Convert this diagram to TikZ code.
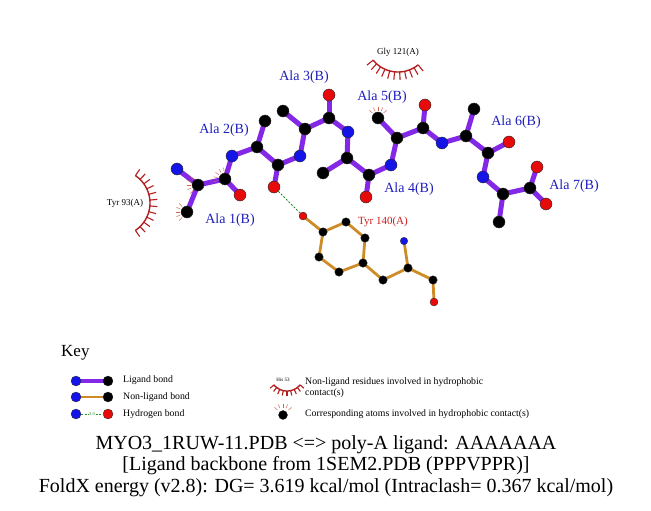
\documentclass[tikz,border=0pt]{standalone}
\usepackage{fontspec}
\setmainfont{Liberation Serif}
\usetikzlibrary{calc}
\pgfdeclarelayer{bg}
\pgfdeclarelayer{bonds}
\pgfsetlayers{bg,bonds,main}
\definecolor{ligpurple}{RGB}{130,40,230}
\definecolor{nonlig}{RGB}{205,140,40}
\definecolor{atomblue}{RGB}{20,20,230}
\definecolor{atomred}{RGB}{230,10,10}
\definecolor{hbgreen}{RGB}{40,140,40}
\definecolor{labelblue}{RGB}{30,30,190}
\definecolor{arcred}{RGB}{180,30,30}
\definecolor{spokecol}{RGB}{210,100,80}
\definecolor{tyrred}{RGB}{200,30,30}
\newcommand\atomspokes[2]{%
  \foreach \aa in {-48,-24,0,24,48}{%
    \draw[spoke] ($(#1)+(#2+\aa:7.5)$) -- ($(#1)+(#2+\aa:11.5)$);}}
\newcommand\hydarc[7]{% cx cy dir radius spread nspokes-1 spokelength
  \draw[arcline] plot[domain={#3-#5}:{#3+#5},samples=40] ({#1+#4*cos(\x)},{#2+#4*sin(\x)});
  \foreach \ii in {0,...,#6}{%
    \pgfmathsetmacro\ang{#3-#5+\ii*2*#5/#6}%
    \draw[arcspoke] ({#1+#4*cos(\ang)},{#2+#4*sin(\ang)}) -- ({#1+(#4+#7)*cos(\ang)},{#2+(#4+#7)*sin(\ang)});}}
\begin{document}
\begin{tikzpicture}[x=1pt,y=-1pt,
  atom/.style={circle,inner sep=0pt,minimum size=12pt,draw=black!85,line width=0.4pt},
  C/.style={atom,fill=black},
  N/.style={atom,fill=atomblue},
  O/.style={atom,fill=atomred},
  tatom/.style={circle,inner sep=0pt,minimum size=8.5pt,draw=black!85,line width=0.3pt},
  tC/.style={tatom,fill=black},
  tN/.style={tatom,fill=atomblue,minimum size=7.5pt},
  tO/.style={tatom,fill=atomred,minimum size=8pt},
  katom/.style={circle,inner sep=0pt,minimum size=10pt,draw=black!85,line width=0.3pt},
  ligbond/.style={draw=ligpurple,line width=5pt},
  nlbond/.style={draw=nonlig,line width=2.8pt},
  hbond/.style={draw=hbgreen,dash pattern=on 2pt off 1.6pt,line width=1pt},
  spoke/.style={draw=spokecol,line width=0.5pt},
  arcline/.style={draw=arcred,line width=1.4pt},
  arcspoke/.style={draw=arcred,line width=1.1pt},
  reslabel/.style={text=labelblue,font=\fontsize{14}{16}\selectfont,inner sep=0pt},
  protlabel/.style={text=black,font=\fontsize{9}{10}\selectfont,inner sep=0pt},
  keytext/.style={anchor=west,font=\fontsize{9.8}{11}\selectfont,inner sep=0pt},
  captext/.style={font=\fontsize{20}{22}\selectfont,inner sep=0pt}]
\useasboundingbox (0,0) rectangle (651,511);
\begin{pgfonlayer}{bg}
\fill[white] (0,0) rectangle (651,511);
\end{pgfonlayer}
% ---------- ligand atoms
\node[N] (n1) at (177,169) {};
\node[C] (ca1) at (198,185) {};
\node[C] (cb1) at (187,212) {};
\node[C] (c1) at (225,179) {};
\node[O] (o1) at (240,195) {};
\node[N] (n2) at (232,156) {};
\node[C] (ca2) at (257,147) {};
\node[C] (cb2) at (265,121) {};
\node[C] (c2) at (278,165) {};
\node[O] (o2) at (274,187) {};
\node[N] (n3) at (300,156) {};
\node[C] (ca3) at (305,129) {};
\node[C] (cb3) at (283,111) {};
\node[C] (c3) at (329,118) {};
\node[O] (o3) at (329,95) {};
\node[N] (n4) at (348,132) {};
\node[C] (ca4) at (347,158) {};
\node[C] (cb4) at (323,173) {};
\node[C] (c4) at (369,175) {};
\node[O] (o4) at (366,197) {};
\node[N] (n5) at (391,165) {};
\node[C] (ca5) at (397,138) {};
\node[C] (cb5) at (378,118) {};
\node[C] (c5) at (423,128) {};
\node[O] (o5) at (425,105) {};
\node[N] (n6) at (442,143) {};
\node[C] (ca6) at (466,136) {};
\node[C] (cb6) at (474,109) {};
\node[C] (c6) at (488,153) {};
\node[O] (o6) at (509,142) {};
\node[N] (n7) at (483,177) {};
\node[C] (ca7) at (503,194) {};
\node[C] (cb7) at (499,222) {};
\node[C] (c7) at (530,188) {};
\node[O] (o7) at (537,167) {};
\node[O] (oxt) at (546,204) {};
% ---------- Tyr 140
\node[tO] (toh) at (303,216) {};
\node[tC] (tcz) at (323,232) {};
\node[tC] (tce1) at (346,222) {};
\node[tC] (tcd1) at (365,238) {};
\node[tC] (tcg) at (363,263) {};
\node[tC] (tcd2) at (339,272) {};
\node[tC] (tce2) at (319,257) {};
\node[tC] (tcb) at (383,280) {};
\node[tC] (tca) at (408,268) {};
\node[tN] (tn) at (404,241) {};
\node[tC] (tc) at (433,280) {};
\node[tO] (tyo) at (434,302) {};
% ---------- bonds
\begin{pgfonlayer}{bonds}
\foreach \a/\b in {n1/ca1,ca1/cb1,ca1/c1,c1/o1,c1/n2,n2/ca2,ca2/cb2,ca2/c2,c2/o2,c2/n3,
  n3/ca3,ca3/cb3,ca3/c3,c3/o3,c3/n4,n4/ca4,ca4/cb4,ca4/c4,c4/o4,c4/n5,
  n5/ca5,ca5/cb5,ca5/c5,c5/o5,c5/n6,n6/ca6,ca6/cb6,ca6/c6,c6/o6,c6/n7,
  n7/ca7,ca7/cb7,ca7/c7,c7/o7,c7/oxt}
  \draw[ligbond] (\a.center) -- (\b.center);
\foreach \a/\b in {toh/tcz,tcz/tce1,tce1/tcd1,tcd1/tcg,tcg/tcd2,tcd2/tce2,tce2/tcz,
  tcg/tcb,tcb/tca,tca/tn,tca/tc,tc/tyo}
  \draw[nlbond] (\a.center) -- (\b.center);
\end{pgfonlayer}
\draw[hbond] (o2) -- (toh);
% ---------- hydrophobic contacts
\atomspokes{ca1}{180}
\atomspokes{c1}{215}
\atomspokes{cb1}{180}
\atomspokes{cb5}{270}
\hydarc{117}{203}{0}{33}{56}{11}{7.5}
\hydarc{398}{40}{96}{32}{45}{10}{8}
% ---------- labels
\node[reslabel] (l1) at (230,220) {Ala 1(B)};
\node[reslabel] (l2) at (224,130) {Ala 2(B)};
\node[reslabel] (l3) at (304,77) {Ala 3(B)};
\node[reslabel] (l4) at (409,189) {Ala 4(B)};
\node[reslabel] (l5) at (382,97) {Ala 5(B)};
\node[reslabel] (l6) at (516,122) {Ala 6(B)};
\node[reslabel] (l7) at (574,186) {Ala 7(B)};
\node[protlabel] (p93) at (125,203) {Tyr 93(A)};
\node[protlabel] (p121) at (398,52) {Gly 121(A)};
\node[text=tyrred,font=\fontsize{11}{12}\selectfont,inner sep=0pt] (p140) at (383,222) {Tyr 140(A)};
% ---------- key
\node[anchor=west,font=\fontsize{17}{19}\selectfont,inner sep=0pt] (key) at (61,353) {Key};
\node[katom,fill=atomblue] (k1a) at (76,381) {};
\node[katom,fill=black] (k1b) at (108,381) {};
\node[katom,fill=atomblue] (k2a) at (76,397) {};
\node[katom,fill=black] (k2b) at (108,397) {};
\node[katom,fill=atomblue] (k3a) at (76,414) {};
\node[katom,fill=atomred] (k3b) at (108,414) {};
\node[text=hbgreen,font=\fontsize{4.5}{5}\selectfont,inner sep=0.6pt,fill=white] (k3t) at (92,414) {3.0};
\begin{pgfonlayer}{bonds}
\draw[draw=ligpurple,line width=4pt] (k1a.center) -- (k1b.center);
\draw[draw=nonlig,line width=2.8pt] (k2a.center) -- (k2b.center);
\end{pgfonlayer}
\draw[hbond] (k3a) -- (k3t);
\draw[hbond] (k3t) -- (k3b);
\node[keytext] (t1) at (123,380) {Ligand bond};
\node[keytext] (t2) at (123,397) {Non-ligand bond};
\node[keytext] (t3) at (123,414) {Hydrogen bond};
\node[font=\fontsize{5}{6}\selectfont,inner sep=0pt] (his) at (283,379.5) {His 53};
\hydarc{287}{374}{90}{17}{50}{8}{5}
\node[keytext] (t4) at (305,382) {Non-ligand residues involved in hydrophobic};
\node[keytext] (t5) at (305,393) {contact(s)};
\node[katom,fill=black,minimum size=9pt] (k4) at (283,415) {};
\atomspokes{k4}{270}
\node[keytext] (t6) at (305,414) {Corresponding atoms involved in hydrophobic contact(s)};
% ---------- caption
\node[captext] (cap1) at (326,445) {MYO3\_1RUW-11.PDB <=> poly-A ligand: AAAAAAA};
\node[captext] (cap2) at (326,466) {[Ligand backbone from 1SEM2.PDB (PPPVPPR)]};
\node[captext] (cap3) at (326,488) {FoldX energy (v2.8): DG= 3.619 kcal/mol (Intraclash= 0.367 kcal/mol)};
\end{tikzpicture}
\end{document}
